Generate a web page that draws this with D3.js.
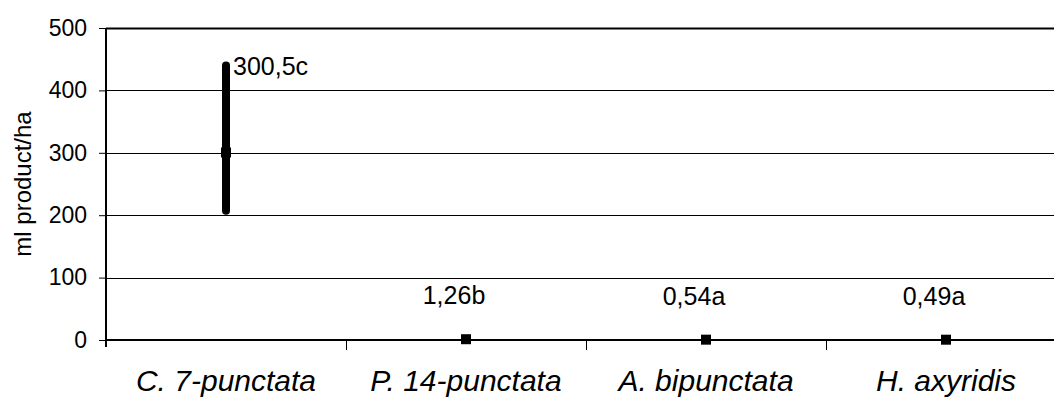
<!DOCTYPE html>
<html>
<head>
<meta charset="utf-8">
<script src="https://cdn.jsdelivr.net/npm/d3@7"></script>
<style>
  body { margin: 0; background: #fff; }
  svg { display: block; font-family: Arial, "Liberation Sans", sans-serif; }
</style>
</head>
<body>
<div id="chart"></div>
<script>
// species and the mean dose with letters from the test
const species = ["C. 7-punctata", "P. 14-punctata", "A. bipunctata", "H. axyridis"];
const means = [300.5, 1.26, 0.54, 0.49];
const labels = ["300,5c", "1,26b", "0,54a", "0,49a"];
const lowErr = [207, 1.26, 0.54, 0.49];
const highErr = [440, 1.26, 0.54, 0.49];
const yTicks = [0, 100, 200, 300, 400, 500];

const width = 1054, height = 398;
const margin = { top: 28, left: 106, bottom: 58 };

const svg = d3.select("#chart").append("svg")
  .attr("width", width)
  .attr("height", height);

const x = d3.scaleBand()
  .domain(species)
  .range([margin.left, margin.left + 240 * species.length]);

const y = d3.scaleLinear()
  .domain([0, 500])
  .range([height - margin.bottom, margin.top]);

// gridlines
svg.append("g")
  .selectAll("line")
  .data(yTicks.filter(d => d > 0))
  .join("line")
  .attr("x1", margin.left)
  .attr("x2", width)
  .attr("y1", d => Math.round(y(d)) + 0.5)
  .attr("y2", d => Math.round(y(d)) + 0.5)
  .attr("stroke", "#000")
  .attr("stroke-width", d => d === 500 ? 2 : 1);

// y axis
const gy = svg.append("g")
  .attr("transform", `translate(${margin.left},0)`)
  .call(d3.axisLeft(y).tickValues(yTicks).tickSize(7).tickPadding(12));
gy.select(".domain").remove();
gy.selectAll(".tick line").attr("stroke", "#000");
gy.selectAll(".tick text")
  .attr("font-size", 23)
  .attr("font-family", "Arial, 'Liberation Sans', sans-serif")
  .attr("fill", "#000");

svg.append("line")
  .attr("x1", margin.left).attr("x2", margin.left)
  .attr("y1", margin.top).attr("y2", y(0) + 7)
  .attr("stroke", "#000").attr("stroke-width", 2);

// x axis along zero
svg.append("line")
  .attr("x1", margin.left).attr("x2", width)
  .attr("y1", y(0)).attr("y2", y(0))
  .attr("stroke", "#000").attr("stroke-width", 2);

svg.append("g")
  .selectAll("line")
  .data(species.slice(1))
  .join("line")
  .attr("x1", d => x(d) + 0.5)
  .attr("x2", d => x(d) + 0.5)
  .attr("y1", y(0))
  .attr("y2", y(0) + 10)
  .attr("stroke", "#000");

svg.append("g")
  .selectAll("text")
  .data(species)
  .join("text")
  .attr("x", d => x(d) + x.bandwidth() / 2)
  .attr("y", 391)
  .attr("text-anchor", "middle")
  .attr("font-size", 30)
  .attr("font-style", "italic")
  .text(d => d);

// y title
svg.append("text")
  .attr("transform", `translate(31,${(y(0) + y(500)) / 2}) rotate(-90)`)
  .attr("text-anchor", "middle")
  .attr("font-size", 24)
  .text("ml product/ha");

const cx = (d, i) => x(species[i]) + x.bandwidth() / 2;

// error bars
svg.append("g")
  .selectAll("line")
  .data(means)
  .join("line")
  .attr("x1", cx).attr("x2", cx)
  .attr("y1", (d, i) => y(lowErr[i]))
  .attr("y2", (d, i) => y(highErr[i]))
  .attr("stroke", "#000")
  .attr("stroke-width", (d, i) => highErr[i] - lowErr[i] > 1 ? 8 : 0)
  .attr("stroke-linecap", "round");

// mean markers
svg.append("g")
  .selectAll("rect")
  .data(means)
  .join("rect")
  .attr("x", (d, i) => cx(d, i) - 5)
  .attr("y", d => y(d) - 5)
  .attr("width", 10)
  .attr("height", 10)
  .attr("fill", "#000");

// value labels
svg.append("g")
  .selectAll("text")
  .data(labels)
  .join("text")
  .attr("x", (d, i) => i === 0 ? cx(d, i) + 7 : cx(d, i) - 12)
  .attr("y", (d, i) => i === 0 ? y(highErr[i]) + 10 : y(means[i]) - 35)
  .attr("text-anchor", (d, i) => i === 0 ? "start" : "middle")
  .attr("font-size", 25)
  .text(d => d);
</script>
</body>
</html>
